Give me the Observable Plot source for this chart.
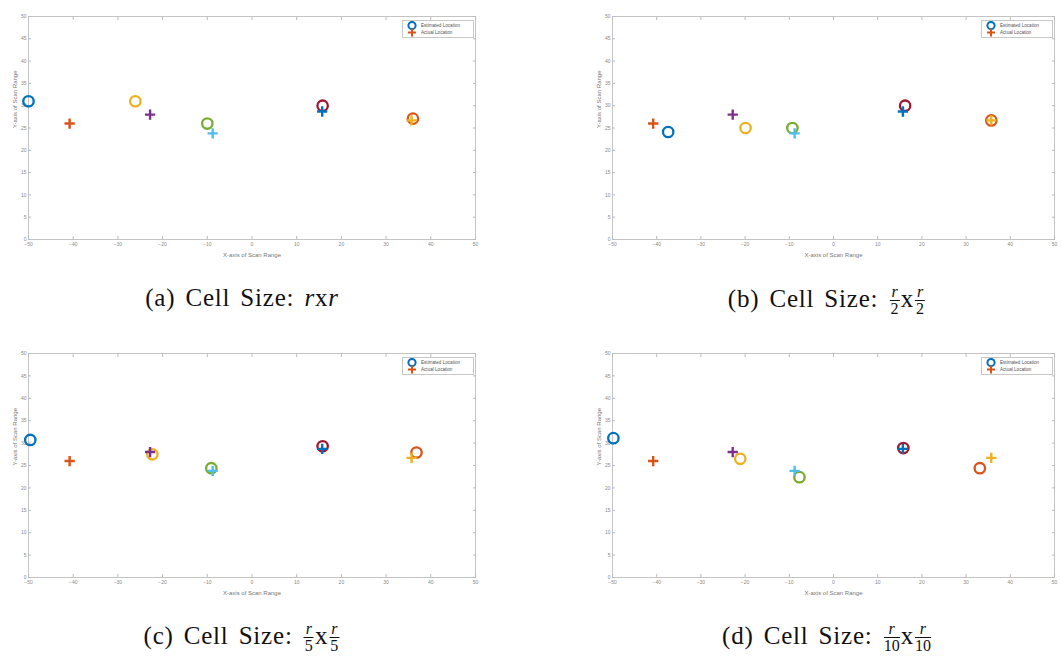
<!DOCTYPE html>
<html>
<head>
<meta charset="utf-8">
<script src="https://cdn.jsdelivr.net/npm/d3@7"></script>
<script src="https://cdn.jsdelivr.net/npm/@observablehq/plot@0.6"></script>
<style>
  html, body { margin: 0; padding: 0; background: #fff; }
  #root { position: relative; width: 1062px; height: 661px; overflow: hidden; background: #fff; }
  .panel { position: absolute; }
  .cap { position: absolute; font-family: "Liberation Serif", "DejaVu Serif", serif; font-size: 25px; line-height: 25px; height: 25px; color: #111; white-space: nowrap; transform: translateX(-50%); letter-spacing: 0.8px; word-spacing: 3px; }
  .cap i { font-style: italic; }
  .frac { display: inline-block; vertical-align: -7px; text-align: center; font-size: 16px; line-height: 14px; margin: 0 1px; letter-spacing: 0; }
  .frac .num { display: block; font-style: italic; border-bottom: 1px solid #111; padding: 0 2px 1px 2px; }
  .frac .den { display: block; padding-top: 1px; }
  .legend { position: absolute; border: 1px solid #c8c8c8; background: #fff; font-family: "Liberation Sans", sans-serif; font-size: 5px; color: #555; }
  .legend svg { display: block; }
</style>
</head>
<body>
<div id="root"></div>
<script>
// ---------- data ----------
const xTicks = [-50, -40, -30, -20, -10, 0, 10, 20, 30, 40, 50];
const yTicks = [0, 5, 10, 15, 20, 25, 30, 35, 40, 45, 50];
const xLabel = "X-axis of Scan Range";
const yLabel = "Y-axis of Scan Range";
const legendLabels = ["Estimated Location", "Actual Location"];

// actual target locations (same in every panel)
const actualX = [-40.8, -22.8, -8.8, 15.7, 35.7];
const actualY = [26.0, 28.0, 23.8, 28.7, 26.7];

// estimated locations per cell size
const estA_X = [-50.0, -26.1, -10.0, 15.8, 36.0];
const estA_Y = [31.0, 31.0, 26.0, 30.0, 27.1];
const estB_X = [-37.4, -19.9, -9.3, 16.2, 35.7];
const estB_Y = [24.1, 25.0, 25.0, 30.0, 26.7];
const estC_X = [-49.6, -22.3, -9.1, 15.8, 36.8];
const estC_Y = [30.7, 27.5, 24.4, 29.3, 27.9];
const estD_X = [-49.8, -21.1, -7.7, 15.8, 33.1];
const estD_Y = [31.1, 26.5, 22.4, 28.9, 24.4];

// MATLAB default colour order, cycled estimate / actual per target
const estColors = ["#0072BD", "#EDB120", "#77AC30", "#A2142F", "#D95319"];
const actColors = ["#D95319", "#7E2F8E", "#4DBEEE", "#0072BD", "#EDB120"];

const captions = [
  '(a) Cell Size: <i>r</i>x<i>r</i>',
  '(b) Cell Size: <span class="frac"><span class="num">r</span><span class="den">2</span></span>x<span class="frac"><span class="num">r</span><span class="den">2</span></span>',
  '(c) Cell Size: <span class="frac"><span class="num">r</span><span class="den">5</span></span>x<span class="frac"><span class="num">r</span><span class="den">5</span></span>',
  '(d) Cell Size: <span class="frac"><span class="num">r</span><span class="den">10</span></span>x<span class="frac"><span class="num">r</span><span class="den">10</span></span>'
];

// ---------- layout ----------
const panels = [
  {ex: estA_X, ey: estA_Y, left: 0,   top: 0,   width: 500, mL: 28, mR: 25, mT: 16, mB: 31, capX: 242, capTop: 285},
  {ex: estB_X, ey: estB_Y, left: 530, top: 0,   width: 532, mL: 82, mR: 8,  mT: 16, mB: 31, capX: 827, capTop: 285},
  {ex: estC_X, ey: estC_Y, left: 0,   top: 330, width: 500, mL: 28, mR: 25, mT: 23, mB: 23, capX: 242, capTop: 622},
  {ex: estD_X, ey: estD_Y, left: 530, top: 330, width: 532, mL: 82, mR: 8,  mT: 23, mB: 23, capX: 827, capTop: 622}
];

const root = document.getElementById("root");

panels.forEach((p, pi) => {
  const marks = [
    Plot.frame({stroke: "#c4c4c4", strokeWidth: 1}),
    Plot.axisX(xTicks, {anchor: "bottom", tickSize: -3, tickPadding: 6, stroke: "#bbb", fill: "#888", label: null}),
    Plot.axisX(xTicks, {anchor: "top", tickSize: -3, stroke: "#bbb", text: null, label: null}),
    Plot.axisY(yTicks, {anchor: "left", tickSize: -3, tickPadding: 5, stroke: "#bbb", fill: "#888", label: null}),
    Plot.axisY(yTicks, {anchor: "right", tickSize: -3, stroke: "#bbb", text: null, label: null}),
    Plot.text([xLabel], {frameAnchor: "bottom", dy: 17, fill: "#777", fontSize: 6}),
    Plot.text([yLabel], {frameAnchor: "left", dx: -13, rotate: -90, fill: "#777", fontSize: 6})
  ];
  for (let i = 0; i < 5; i++) {
    marks.push(Plot.dot([{x: p.ex[i], y: p.ey[i]}], {x: "x", y: "y", symbol: "circle", r: 5.2, stroke: estColors[i], strokeWidth: 2.3, fill: "none"}));
    marks.push(Plot.dot([{x: actualX[i], y: actualY[i]}], {x: "x", y: "y", symbol: "plus", r: 3.4, stroke: actColors[i], strokeWidth: 2.4, fill: "none"}));
  }
  const svg = Plot.plot({
    width: p.width, height: 270,
    marginLeft: p.mL, marginRight: p.mR, marginTop: p.mT, marginBottom: p.mB,
    x: {domain: [-50, 50]},
    y: {domain: [0, 50]},
    style: {fontSize: "5px", fontFamily: "Liberation Sans, sans-serif", background: "transparent", color: "#888"},
    marks
  });
  const wrap = document.createElement("div");
  wrap.className = "panel";
  wrap.style.left = p.left + "px";
  wrap.style.top = p.top + "px";
  wrap.appendChild(svg);
  root.appendChild(wrap);

  // legend, inside upper right of the axes box
  const frameRight = p.left + p.width - p.mR;
  const frameTop = p.top + p.mT;
  const lg = document.createElement("div");
  lg.className = "legend";
  lg.style.left = (frameRight - 73) + "px";
  lg.style.top = (frameTop + 4) + "px";
  lg.innerHTML = `<svg width="70" height="16">
    <circle cx="9" cy="4.5" r="3.6" fill="none" stroke="${estColors[0]}" stroke-width="2"/>
    <path d="M9,7.5V15.5M5,11.5H13" stroke="${actColors[0]}" stroke-width="2"/>
    <text x="18" y="6" font-size="4.6" fill="#555" font-family="Liberation Sans, sans-serif">${legendLabels[0]}</text>
    <text x="18" y="13" font-size="4.6" fill="#555" font-family="Liberation Sans, sans-serif">${legendLabels[1]}</text>
  </svg>`;
  root.appendChild(lg);

  const cap = document.createElement("div");
  cap.className = "cap";
  cap.style.left = p.capX + "px";
  cap.style.top = p.capTop + "px";
  cap.innerHTML = captions[pi];
  root.appendChild(cap);
});
</script>
</body>
</html>
